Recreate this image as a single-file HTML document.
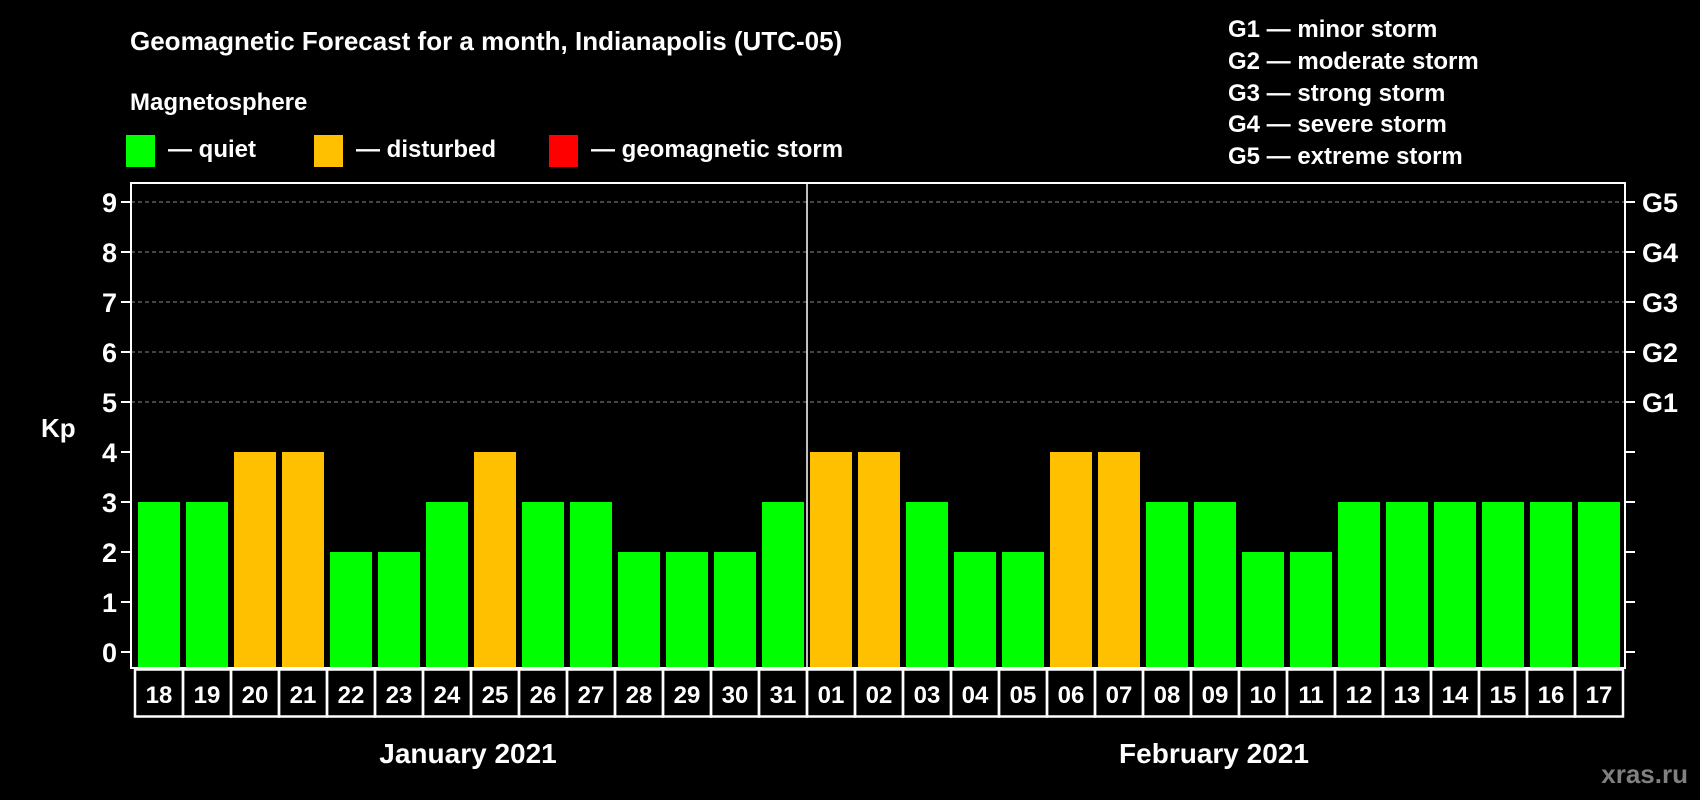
<!DOCTYPE html>
<html><head><meta charset="utf-8"><style>
html,body{margin:0;padding:0;background:#000;width:1700px;height:800px;overflow:hidden}
svg{display:block}
text{font-family:"Liberation Sans",Arial,sans-serif;font-weight:bold;fill:#fff}
</style></head><body>
<svg id="chart" width="1700" height="800">
<text x="130" y="50" font-size="26">Geomagnetic Forecast for a month, Indianapolis (UTC-05)</text>
<text x="130" y="110" font-size="24">Magnetosphere</text>
<rect x="126" y="135" width="29" height="32" fill="#00ff00"/>
<text x="168" y="157" font-size="24">— quiet</text>
<rect x="314" y="135" width="29" height="32" fill="#ffc000"/>
<text x="356" y="157" font-size="24">— disturbed</text>
<rect x="549" y="135" width="29" height="32" fill="#ff0000"/>
<text x="591" y="157" font-size="24">— geomagnetic storm</text>
<g font-size="24">
<text x="1228" y="37">G1 — minor storm</text>
<text x="1228" y="69">G2 — moderate storm</text>
<text x="1228" y="101">G3 — strong storm</text>
<text x="1228" y="132">G4 — severe storm</text>
<text x="1228" y="164">G5 — extreme storm</text>
</g>
<text x="41" y="437" font-size="26">Kp</text>
<text x="468" y="763" font-size="28" text-anchor="middle">January 2021</text>
<text x="1214" y="763" font-size="28" text-anchor="middle">February 2021</text>
<text x="1688" y="783" font-size="26" text-anchor="end" style="fill:#808080">xras.ru</text>
<g id="plot"></g>
</svg>
<script>
const days = ["18","19","20","21","22","23","24","25","26","27","28","29","30","31","01","02","03","04","05","06","07","08","09","10","11","12","13","14","15","16","17"];
const kpValues = [3,3,4,4,2,2,3,4,3,3,2,2,2,3,4,4,3,2,2,4,4,3,3,2,2,3,3,3,3,3,3];
const yTicks = [0,1,2,3,4,5,6,7,8,9];
const gLabels = ["G1","G2","G3","G4","G5"];
const gLevels = [5,6,7,8,9];
const monthSplit = 14;

const NS="http://www.w3.org/2000/svg";
const g=document.getElementById('plot');
const L=131,R=1625,T=183,B=668,x0=135,pitch=48;
const y=v=>652-50*v;
const x=i=>x0+i*pitch;
function mk(t,a){const e=document.createElementNS(NS,t);for(const k in a)e.setAttribute(k,a[k]);g.appendChild(e);return e;}
// grid
gLevels.forEach(v=>{
 const l=mk('line',{x1:L,x2:R,y1:y(v),y2:y(v),stroke:'#888','stroke-dasharray':'4,3','stroke-width':1});
 
 
});
// bars
kpValues.forEach((v,i)=>{
 const c=v>=5?'#ff0000':(v>=4?'#ffc000':'#00ff00');
 const r=mk('rect',{x:x(i)+3,y:y(v),width:42,height:B-y(v),fill:c});
 
 
 const b=mk('rect',{x:x(i),y:B+1.5,width:pitch,height:47,fill:'none',stroke:'#fff','stroke-width':2.5});
 
 
 const t=mk('text',{x:x(i)+pitch/2,y:B+35,'font-size':24,'text-anchor':'middle'});
 t.textContent=days[i];
 
 
});
// frame
const f=mk('rect',{x:L,y:T,width:R-L,height:B-T,fill:'none',stroke:'#fff','stroke-width':2});


const d=mk('line',{x1:x(monthSplit),x2:x(monthSplit),y1:T,y2:B,stroke:'#fff','stroke-width':1.5});


yTicks.forEach(v=>{
 mk('line',{x1:L-10,x2:L,y1:y(v),y2:y(v),stroke:'#fff','stroke-width':2});
 mk('line',{x1:R,x2:R+10,y1:y(v),y2:y(v),stroke:'#fff','stroke-width':2});
 const t=mk('text',{x:117,y:y(v)+10,'font-size':27,'text-anchor':'end'});
 t.textContent=v;
 
 
});
gLabels.forEach((s,i)=>{
 const t=mk('text',{x:1642,y:y(gLevels[i])+10,'font-size':27});
 t.textContent=s;
 
 
});
</script>
</body></html>
